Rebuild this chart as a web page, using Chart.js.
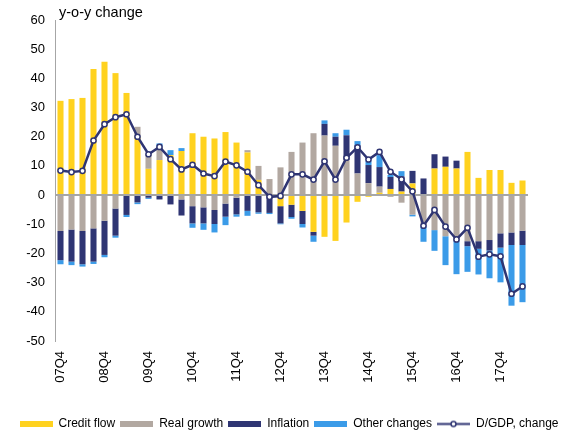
<!DOCTYPE html>
<html>
<head>
<meta charset="utf-8">
<script src="https://cdn.jsdelivr.net/npm/chart.js@4"></script>
<style>
  html, body { margin: 0; padding: 0; background: #fff; }
</style>
</head>
<body>
<canvas id="chart" width="564" height="434"></canvas>
<script>
// quarters, 07Q4 .. 18Q2
const quarters = ['07Q4',
  '08Q1', '08Q2', '08Q3', '08Q4', '09Q1', '09Q2', '09Q3', '09Q4',
  '10Q1', '10Q2', '10Q3', '10Q4', '11Q1', '11Q2', '11Q3', '11Q4',
  '12Q1', '12Q2', '12Q3', '12Q4', '13Q1', '13Q2', '13Q3', '13Q4',
  '14Q1', '14Q2', '14Q3', '14Q4', '15Q1', '15Q2', '15Q3', '15Q4',
  '16Q1', '16Q2', '16Q3', '16Q4', '17Q1', '17Q2', '17Q3', '17Q4',
  '18Q1', '18Q2'];

// contributions to the y-o-y change (pp)
const creditFlow = [32.3,
  32.9, 33.3, 43.2, 45.7, 41.8, 35.0, 20.0, 9.0,
  12.0, 13.7, 15.1, 21.2, 20.0, 19.4, 21.6, 18.0,
  14.6, 5.2, 0, -3.8, -3.3, -5.4, -12.6, -14.3,
  -15.7, -9.4, -2.3, -0.6, 0.8, 2.1, 1.2, 4.0,
  0, 9.1, 9.7, 9.1, 14.8, 5.9, 8.6, 8.6,
  4.2, 5.0];
const realGrowth = [-12.3,
  -11.8, -12.3, -11.4, -8.8, -4.6, 0, 3.4, 5.0,
  4.6, 0, -1.5, -3.8, -4.2, -5.1, -2.9, -0.9,
  0.8, 4.8, 5.5, 9.5, 14.8, 18.0, 21.2, 20.4,
  16.9, 12.0, 7.4, 4.1, 2.1, -0.6, -2.6, -6.7,
  -10.8, -12.0, -14.1, -15.7, -15.8, -15.8, -15.4, -13.1,
  -12.8, -12.2];
const inflation = [-10.0,
  -11.0, -11.4, -11.4, -11.7, -9.3, -6.8, -2.5, -0.9,
  -1.5, -3.2, -5.5, -5.9, -5.5, -4.8, -4.5, -5.7,
  -5.4, -5.9, -6.1, -5.9, -4.2, -4.5, -1.3, 4.0,
  3.1, 8.5, 9.7, 6.2, 6.7, 4.1, 5.2, 4.3,
  5.7, 4.9, 3.5, 2.7, -1.7, -2.6, -3.6, -4.9,
  -4.3, -4.9];
const otherChanges = [-1.4,
  -1.2, -0.8, -0.8, -0.8, -0.7, -0.7, -0.6, -0.4,
  1.1, 1.7, 1.0, -1.5, -2.2, -2.9, -2.9, -0.8,
  -1.7, -0.5, -0.4, -0.3, -0.6, -1.2, -2.1, 1.2,
  1.2, 1.9, 1.4, 1.3, 4.1, 0.7, 1.8, -0.6,
  -5.2, -7.1, -9.9, -11.4, -8.8, -8.8, -9.5, -11.9,
  -20.8, -19.6];
const debtChange = [8.4,
  7.9, 8.3, 18.7, 24.3, 26.7, 27.7, 20.0, 14.0,
  16.5, 12.3, 8.8, 10.4, 7.4, 6.5, 11.5, 10.2,
  8.0, 3.4, -0.6, -0.3, 7.1, 7.1, 5.3, 11.6,
  5.3, 12.8, 16.4, 12.2, 14.8, 8.0, 5.4, 1.3,
  -10.5, -5.1, -10.8, -15.2, -11.2, -21.1, -20.3, -21.0,
  -33.8, -31.3];

const yellow = '#FFD21F';
const grey = '#B2A8A1';
const navy = '#2F3573';
const blue = '#3B9BE8';
const axisGrey = '#A6A6A6';
const font = '"Liberation Sans", Arial, sans-serif';

// legend icons: wide flat boxes, and a line with a marker
function boxIcon(color) {
  const c = document.createElement('canvas');
  c.width = 33; c.height = 6;
  const g = c.getContext('2d');
  g.fillStyle = color;
  g.fillRect(0, 0, 33, 6);
  return c;
}
function lineIcon() {
  const c = document.createElement('canvas');
  c.width = 33; c.height = 9;
  const g = c.getContext('2d');
  g.strokeStyle = navy;
  g.lineWidth = 2;
  g.beginPath(); g.moveTo(0, 4.5); g.lineTo(33, 4.5); g.stroke();
  g.fillStyle = '#fff';
  g.lineWidth = 1.5;
  g.beginPath(); g.arc(16.5, 4.5, 2.5, 0, Math.PI * 2); g.fill(); g.stroke();
  return c;
}
const icons = [boxIcon(yellow), boxIcon(grey), boxIcon(navy), boxIcon(blue), lineIcon()];

// title text, zero line drawn over the bars but under the D/GDP line, legend nudge
const extras = {
  id: 'extras',
  afterUpdate(chart) {
    const lg = chart.legend;
    if (lg) { lg.left += 7; lg.right += 7; lg.top += 6; lg.bottom += 6; }
  },
  beforeDatasetDraw(chart, args) {
    if (args.index !== 4) return;
    const ctx = chart.ctx;
    const y = Math.round(chart.scales.y.getPixelForValue(0));
    ctx.save();
    ctx.strokeStyle = axisGrey;
    ctx.lineWidth = 2;
    ctx.beginPath();
    ctx.moveTo(chart.chartArea.left, y);
    ctx.lineTo(chart.chartArea.right, y);
    ctx.stroke();
    ctx.restore();
  },
  afterDraw(chart) {
    const ctx = chart.ctx;
    ctx.save();
    ctx.font = '14.5px ' + font;
    ctx.fillStyle = '#000';
    ctx.textBaseline = 'alphabetic';
    ctx.fillText('y-o-y change', 59, 17);
    ctx.restore();
  }
};

const barOpts = { stack: 'a', barPercentage: 0.55, categoryPercentage: 1, borderWidth: 0 };

new Chart(document.getElementById('chart'), {
  type: 'bar',
  data: {
    labels: quarters,
    datasets: [
      { label: 'Credit flow', data: creditFlow, backgroundColor: yellow, ...barOpts },
      { label: 'Real growth', data: realGrowth, backgroundColor: grey, ...barOpts },
      { label: 'Inflation', data: inflation, backgroundColor: navy, ...barOpts },
      { label: 'Other changes', data: otherChanges, backgroundColor: blue, ...barOpts },
      {
        type: 'line', label: 'D/GDP, change', data: debtChange, stack: 'line', order: -1,
        borderColor: navy, borderWidth: 2.5, tension: 0,
        pointRadius: 2.6, pointBackgroundColor: '#fff', pointBorderColor: navy, pointBorderWidth: 1.5
      }
    ]
  },
  options: {
    responsive: false,
    animation: false,
    layout: { padding: { left: 0, right: 0, top: 20, bottom: 0 } },
    scales: {
      x: {
        stacked: true,
        grid: { display: false, drawTicks: false },
        border: { display: false },
        ticks: {
          autoSkip: false, minRotation: 90, maxRotation: 90, padding: 10,
          color: '#000', font: { family: font, size: 13 },
          callback: (v, i) => (i % 4 === 0 ? quarters[i] : '')
        },
        afterFit: s => { s.height = 66; }
      },
      y: {
        stacked: true, min: -50, max: 60,
        ticks: { stepSize: 10, padding: 10, color: '#000', font: { family: font, size: 13 } },
        grid: { display: false, drawTicks: false },
        border: { display: true, color: axisGrey, width: 1 },
        afterFit: s => { s.width = 55; }
      },
      y2: {
        position: 'right', display: true,
        grid: { display: false, drawTicks: false },
        border: { display: false },
        ticks: { display: false },
        afterFit: s => { s.width = 36; }
      }
    },
    plugins: {
      tooltip: { enabled: false },
      legend: {
        position: 'bottom',
        labels: {
          usePointStyle: true, pointStyleWidth: 33, boxHeight: 6, padding: 5,
          color: '#000', font: { family: font, size: 12 },
          generateLabels: chart => chart.data.datasets.map((ds, i) => ({
            text: ds.label, pointStyle: icons[i], fillStyle: 'rgba(0,0,0,0)',
            strokeStyle: 'rgba(0,0,0,0)', lineWidth: 0, hidden: false, datasetIndex: i
          }))
        }
      }
    }
  },
  plugins: [extras]
});
</script>
</body>
</html>
